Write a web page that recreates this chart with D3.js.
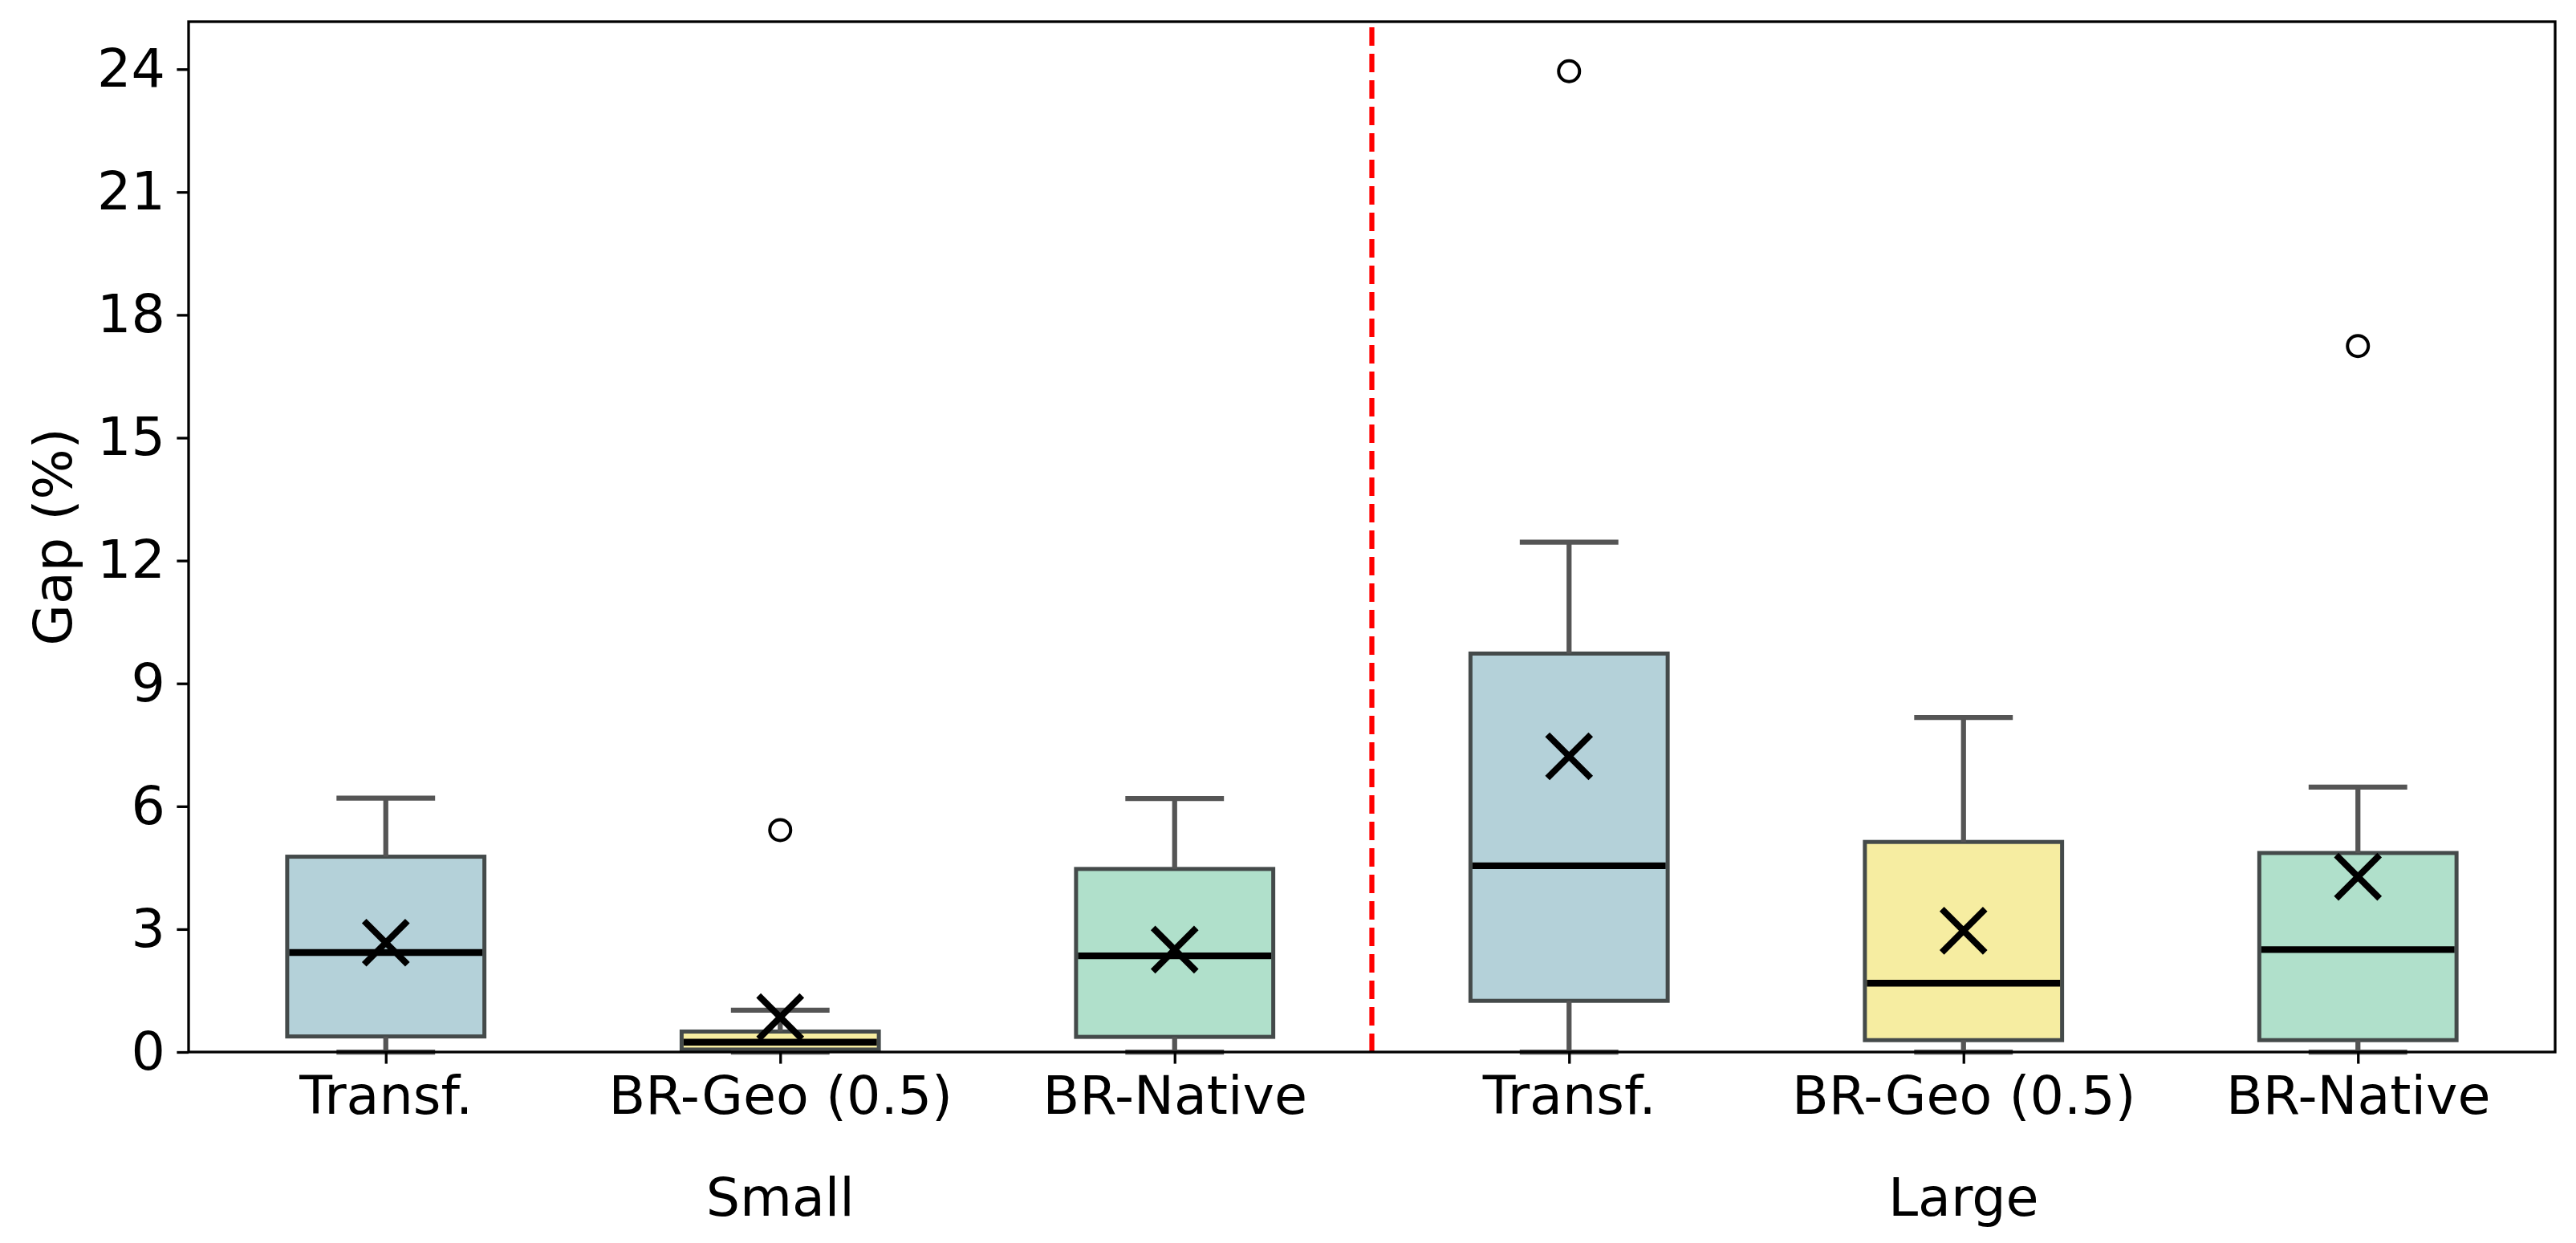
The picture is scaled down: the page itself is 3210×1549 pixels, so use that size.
<!DOCTYPE html>
<html>
<head>
<meta charset="utf-8">
<script src="https://cdn.jsdelivr.net/npm/d3@7"></script>
<style>
  body { margin: 0; background: #fff; }
  text { font-family: "DejaVu Sans", sans-serif; }
</style>
</head>
<body>
<script>
'use strict';

// values (Gap %)
const categories = ["Transf.", "BR-Geo (0.5)", "BR-Native", "Transf.", "BR-Geo (0.5)", "BR-Native"];
const groups = ["Small", "Large"];
const groupCenters = [2, 5];
const whiskerLow = [0, 0, 0, 0, 0, 0];
const q1 = [0.38, 0.06, 0.37, 1.25, 0.29, 0.29];
const medians = [2.43, 0.24, 2.35, 4.55, 1.68, 2.50];
const q3 = [4.77, 0.50, 4.47, 9.73, 5.13, 4.86];
const whiskerHigh = [6.20, 1.02, 6.19, 12.45, 8.17, 6.47];
const means = [2.67, 0.85, 2.50, 7.22, 2.96, 4.28];
const outliers = [[], [5.42], [], [23.95], [], [17.24]];
const fills = ["#b4d1d9", "#f6eda1", "#b0e0cb", "#b4d1d9", "#f6eda1", "#b0e0cb"];
const yTicks = [0, 3, 6, 9, 12, 15, 18, 21, 24];
const dividerAt = 3.5;

const W = 3210, H = 1549;
const pLeft = 235, pRight = 3184, pTop = 27, pBottom = 1311;
const fontSize = 66.7;

const svg = d3.select('body').append('svg')
    .attr('width', W).attr('height', H)
    .attr('viewBox', `0 0 ${W} ${H}`);

svg.append('rect').attr('width', W).attr('height', H).attr('fill', '#fff');

const x = d3.scaleLinear().domain([0.5, 6.5]).range([pLeft, pRight]);
const y = d3.scaleLinear().domain([0, 25.16]).range([pBottom, pTop]);

const boxes = categories.map((c, i) => ({
    pos: i + 1, label: c, lo: whiskerLow[i], q1: q1[i], med: medians[i],
    q3: q3[i], hi: whiskerHigh[i], mean: means[i], out: outliers[i], fill: fills[i]
}));

const boxW = x(1.25) - x(1);     // half of box width 0.5
const capW = x(1.125) - x(1);    // half of cap width 0.25

const plot = svg.append('g');

// separator between Small and Large
plot.append('line')
    .attr('x1', x(dividerAt)).attr('x2', x(dividerAt))
    .attr('y1', pBottom).attr('y2', pTop)
    .attr('stroke', 'red').attr('stroke-width', 6.25)
    .attr('stroke-dasharray', '23,10');

const g = plot.selectAll('.box').data(boxes).enter().append('g').attr('class', 'box');

g.append('rect')
    .attr('x', d => x(d.pos) - boxW)
    .attr('width', boxW * 2)
    .attr('y', d => y(d.q3))
    .attr('height', d => y(d.q1) - y(d.q3))
    .attr('fill', d => d.fill)
    .attr('stroke', '#444a4a').attr('stroke-width', 5);

// whiskers
g.append('line')
    .attr('x1', d => x(d.pos)).attr('x2', d => x(d.pos))
    .attr('y1', d => y(d.q3)).attr('y2', d => y(d.hi))
    .attr('stroke', '#555').attr('stroke-width', 6.25);
g.append('line')
    .attr('x1', d => x(d.pos)).attr('x2', d => x(d.pos))
    .attr('y1', d => y(d.q1)).attr('y2', d => y(d.lo))
    .attr('stroke', '#555').attr('stroke-width', 6.25);

// caps
g.append('line')
    .attr('x1', d => x(d.pos) - capW).attr('x2', d => x(d.pos) + capW)
    .attr('y1', d => y(d.hi)).attr('y2', d => y(d.hi))
    .attr('stroke', '#555').attr('stroke-width', 6.25);
g.append('line')
    .attr('x1', d => x(d.pos) - capW).attr('x2', d => x(d.pos) + capW)
    .attr('y1', d => y(d.lo)).attr('y2', d => y(d.lo))
    .attr('stroke', '#555').attr('stroke-width', 6.25);

// medians
g.append('line')
    .attr('x1', d => x(d.pos) - boxW + 2.5).attr('x2', d => x(d.pos) + boxW - 2.5)
    .attr('y1', d => y(d.med)).attr('y2', d => y(d.med))
    .attr('stroke', '#000').attr('stroke-width', 8.3);

// fliers
g.selectAll('.flier').data(d => d.out.map(v => ({pos: d.pos, v: v})))
    .enter().append('circle')
    .attr('class', 'flier')
    .attr('cx', d => x(d.pos)).attr('cy', d => y(d.v))
    .attr('r', 13)
    .attr('fill', 'none').attr('stroke', '#000').attr('stroke-width', 4);

// means as "x"
const ms = 27;
g.append('path')
    .attr('d', d => {
        const cx = x(d.pos), cy = y(d.mean);
        return `M${cx - ms},${cy - ms}L${cx + ms},${cy + ms}M${cx - ms},${cy + ms}L${cx + ms},${cy - ms}`;
    })
    .attr('stroke', '#000').attr('stroke-width', 8).attr('fill', 'none');

// axes
const yAxis = svg.append('g')
    .attr('transform', `translate(${pLeft},0)`)
    .call(d3.axisLeft(y).tickValues(yTicks).tickSize(14.6).tickPadding(14.6).tickFormat(d3.format('d')));
const xAxis = svg.append('g')
    .attr('transform', `translate(0,${pBottom})`)
    .call(d3.axisBottom(x).tickValues(boxes.map(d => d.pos)).tickSize(14.6).tickPadding(14.6)
        .tickFormat((d, i) => categories[i]));

[yAxis, xAxis].forEach(a => {
    a.select('.domain').remove();
    a.selectAll('.tick line').attr('stroke', '#000').attr('stroke-width', 3.3);
    a.selectAll('.tick text')
        .attr('fill', '#000')
        .style('font-family', '"DejaVu Sans", sans-serif')
        .style('font-size', fontSize + 'px');
});

// frame
svg.append('rect')
    .attr('x', pLeft).attr('y', pTop)
    .attr('width', pRight - pLeft).attr('height', pBottom - pTop)
    .attr('fill', 'none').attr('stroke', '#000').attr('stroke-width', 3.3);

// group labels
svg.selectAll('.grp').data(groups).enter().append('text')
    .attr('class', 'grp')
    .attr('x', (d, i) => x(groupCenters[i]))
    .attr('y', 1515)
    .attr('text-anchor', 'middle')
    .style('font-size', fontSize + 'px')
    .text(d => d);

// y label
svg.append('text')
    .attr('transform', `translate(66,${(pTop + pBottom) / 2}) rotate(-90)`)
    .attr('text-anchor', 'middle')
    .attr('dy', '0.35em')
    .style('font-size', fontSize + 'px')
    .text('Gap (%)');
</script>
</body>
</html>
